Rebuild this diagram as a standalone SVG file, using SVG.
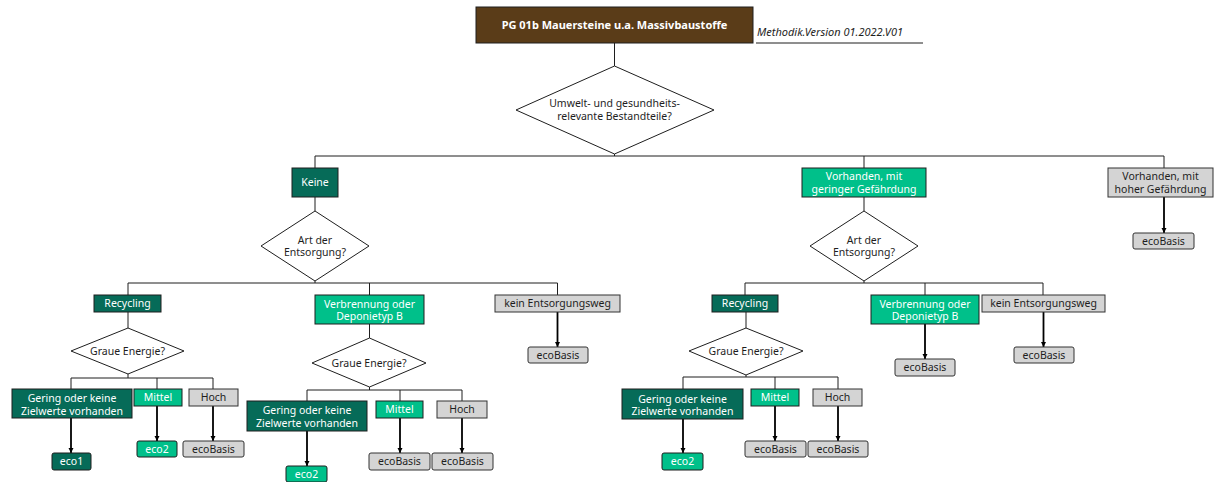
<svg xmlns="http://www.w3.org/2000/svg" width="1218" height="482" viewBox="0 0 1218 482">
<style>
text{font-family:"Noto Sans","Open Sans","DejaVu Sans",sans-serif;font-size:10.5px;text-anchor:middle}
.w{fill:#ffffff}
.k{fill:#1e1e1e}
.dk{fill:#066b58;stroke:#1e1e1e;stroke-width:1}
.br{fill:#00c08a;stroke:#1e1e1e;stroke-width:1}
.gy{fill:#d4d4d4;stroke:#333333;stroke-width:1}
.dia{fill:#ffffff;stroke:#1e1e1e;stroke-width:1}
.ln{fill:none;stroke:#1e1e1e;stroke-width:1}
.ar{fill:none;stroke:#000000;stroke-width:1.8;marker-end:url(#ah)}
</style>
<defs>
<marker id="ah" markerUnits="userSpaceOnUse" markerWidth="6" markerHeight="6" refX="5" refY="2.5" orient="auto">
<path d="M0,0 L5,2.5 L0,5 z" fill="#000000"/>
</marker>
</defs>
<rect width="1218" height="482" fill="#ffffff"/>

<g id="connectors">
<path class="ln" d="M614.5,43V66M614.5,154V156M315,156H1164M315,156V168M864,156V168M1164,156V168"/>
<path class="ln" d="M315,197V211M315,281V283M128,283H557.5M128,283V295M369.5,283V295M557.5,283V295"/>
<path class="ln" d="M864,197V211M864,281V283M745,283H1043M745,283V295M925,283V295M1043,283V295"/>
<path class="ln" d="M128,312V328M128,374V378M71,378H213M71,378V389M157,378V389M213,378V389"/>
<path class="ln" d="M369.5,324V338M369.5,387V390M307,390H462M307,390V401M400,390V401M462,390V401"/>
<path class="ln" d="M746,312V328M746,375V377M683,377H838M683,377V389M775,377V389M838,377V389"/>
<path class="ar" d="M1164,197V233"/>
<path class="ar" d="M557.5,312V347"/>
<path class="ar" d="M925,324V359"/>
<path class="ar" d="M1043.5,312V347"/>
<path class="ar" d="M71,418V453"/>
<path class="ar" d="M157,406V441"/>
<path class="ar" d="M213,406V441"/>
<path class="ar" d="M307,431V466"/>
<path class="ar" d="M400,418V453"/>
<path class="ar" d="M462,418V453"/>
<path class="ar" d="M683,419V453"/>
<path class="ar" d="M775,406V441"/>
<path class="ar" d="M838,406V441"/>
</g>

<g id="title">
<rect x="476" y="7" width="277" height="36" fill="#5a3c18" stroke="#1e1e1e"/>
<text x="614.5" y="29" class="w" style="font-weight:bold;font-size:11px">PG 01b Mauersteine u.a. Massivbaustoffe</text>
</g>
<g id="version">
<text x="757" y="36" class="k" style="font-style:italic;font-size:11px;text-anchor:start">Methodik.Version 01.2022.V01</text>
<path class="ln" d="M756,43H923"/>
</g>

<g id="q1">
<polygon class="dia" points="614.5,66 714,110 614.5,154 516,110"/>
<text x="614.5" y="106.5" class="k">Umwelt- und gesundheits-</text>
<text x="614.5" y="120" class="k">relevante Bestandteile?</text>
</g>

<g id="n_keine">
<rect class="dk" x="292" y="168" width="46" height="29"/>
<text x="315" y="186" class="w">Keine</text>
</g>
<g id="n_vorh_gering">
<rect class="br" x="802" y="168" width="124" height="29"/>
<text x="864" y="180" class="w">Vorhanden, mit</text>
<text x="864" y="193" class="w">geringer Gefährdung</text>
</g>
<g id="n_vorh_hoch">
<rect class="gy" x="1108" y="168" width="105" height="29"/>
<text x="1160.5" y="180" class="k">Vorhanden, mit</text>
<text x="1160.5" y="193" class="k">hoher Gefährdung</text>
</g>
<g id="r_vorh_hoch">
<rect class="gy" x="1133" y="233" width="61" height="16" rx="2"/>
<text x="1163.5" y="244.5" class="k">ecoBasis</text>
</g>

<g id="q2">
<polygon class="dia" points="315,211 369,246 315,281 261,246"/>
<text x="315" y="243.5" class="k">Art der</text>
<text x="315" y="256" class="k">Entsorgung?</text>
</g>
<g id="q5">
<polygon class="dia" points="864,211 918,246 864,281 810,246"/>
<text x="864" y="243.5" class="k">Art der</text>
<text x="864" y="256" class="k">Entsorgung?</text>
</g>

<g id="n_rec_l">
<rect class="dk" x="94" y="295" width="67" height="17"/>
<text x="127.5" y="307" class="w">Recycling</text>
</g>
<g id="n_ver_l">
<rect class="br" x="315" y="295" width="109" height="29"/>
<text x="369.5" y="307.5" class="w">Verbrennung oder</text>
<text x="369.5" y="320" class="w">Deponietyp B</text>
</g>
<g id="n_kein_l">
<rect class="gy" x="495" y="295" width="125" height="17"/>
<text x="557.5" y="307" class="k">kein Entsorgungsweg</text>
</g>
<g id="r_kein_l">
<rect class="gy" x="528" y="347" width="60" height="16" rx="2"/>
<text x="558" y="358.5" class="k">ecoBasis</text>
</g>

<g id="n_rec_r">
<rect class="dk" x="712" y="295" width="66" height="17"/>
<text x="745" y="307" class="w">Recycling</text>
</g>
<g id="n_ver_r">
<rect class="br" x="871" y="295" width="108" height="29"/>
<text x="925" y="307.5" class="w">Verbrennung oder</text>
<text x="925" y="320" class="w">Deponietyp B</text>
</g>
<g id="n_kein_r">
<rect class="gy" x="982" y="295" width="123" height="17"/>
<text x="1043.5" y="307" class="k">kein Entsorgungsweg</text>
</g>
<g id="r_ver_r">
<rect class="gy" x="895" y="359" width="60" height="17" rx="2"/>
<text x="925" y="371" class="k">ecoBasis</text>
</g>
<g id="r_kein_r">
<rect class="gy" x="1014" y="347" width="60" height="16" rx="2"/>
<text x="1044" y="358.5" class="k">ecoBasis</text>
</g>

<g id="q3">
<polygon class="dia" points="128,328 184,351 128,374 71,351"/>
<text x="127.5" y="354.5" class="k">Graue Energie?</text>
</g>
<g id="q4">
<polygon class="dia" points="369.5,338 426,363 369.5,387 312,363"/>
<text x="369" y="366.5" class="k">Graue Energie?</text>
</g>
<g id="q6">
<polygon class="dia" points="746,328 803,351 746,375 689,351"/>
<text x="746" y="354.5" class="k">Graue Energie?</text>
</g>

<g id="n_g1">
<rect class="dk" x="12" y="389" width="120" height="29"/>
<text x="72" y="402" class="w">Gering oder keine</text>
<text x="72" y="414.5" class="w">Zielwerte vorhanden</text>
</g>
<g id="n_m1">
<rect class="br" x="134" y="389" width="48" height="17"/>
<text x="158" y="401" class="w">Mittel</text>
</g>
<g id="n_h1">
<rect class="gy" x="189" y="389" width="49" height="17"/>
<text x="213.5" y="401" class="k">Hoch</text>
</g>
<g id="r_g1">
<rect class="dk" x="52" y="453" width="39" height="17" rx="2"/>
<text x="71.5" y="465" class="w">eco1</text>
</g>
<g id="r_m1">
<rect class="br" x="137" y="441" width="40" height="16" rx="2"/>
<text x="157" y="452.5" class="w">eco2</text>
</g>
<g id="r_h1">
<rect class="gy" x="183" y="441" width="61" height="16" rx="2"/>
<text x="213.5" y="452.5" class="k">ecoBasis</text>
</g>

<g id="n_g2">
<rect class="dk" x="247" y="401" width="120" height="30"/>
<text x="307" y="414" class="w">Gering oder keine</text>
<text x="307" y="426.5" class="w">Zielwerte vorhanden</text>
</g>
<g id="n_m2">
<rect class="br" x="376" y="401" width="47" height="17"/>
<text x="399.5" y="413" class="w">Mittel</text>
</g>
<g id="n_h2">
<rect class="gy" x="437" y="401" width="50" height="17"/>
<text x="462" y="413" class="k">Hoch</text>
</g>
<g id="r_g2">
<rect class="br" x="286" y="466" width="41" height="16" rx="2"/>
<text x="306.5" y="478" class="w">eco2</text>
</g>
<g id="r_m2">
<rect class="gy" x="369" y="453" width="61" height="17" rx="2"/>
<text x="399.5" y="465" class="k">ecoBasis</text>
</g>
<g id="r_h2">
<rect class="gy" x="432" y="453" width="61" height="17" rx="2"/>
<text x="462.5" y="465" class="k">ecoBasis</text>
</g>

<g id="n_g3">
<rect class="dk" x="622" y="389" width="121" height="30"/>
<text x="682.5" y="402.5" class="w">Gering oder keine</text>
<text x="682.5" y="415" class="w">Zielwerte vorhanden</text>
</g>
<g id="n_m3">
<rect class="br" x="751" y="389" width="48" height="17"/>
<text x="775" y="401" class="w">Mittel</text>
</g>
<g id="n_h3">
<rect class="gy" x="813" y="389" width="49" height="17"/>
<text x="837.5" y="401" class="k">Hoch</text>
</g>
<g id="r_g3">
<rect class="br" x="662" y="453" width="41" height="17" rx="2"/>
<text x="682.5" y="465" class="w">eco2</text>
</g>
<g id="r_m3">
<rect class="gy" x="745" y="441" width="61" height="16" rx="2"/>
<text x="775.5" y="452.5" class="k">ecoBasis</text>
</g>
<g id="r_h3">
<rect class="gy" x="808" y="441" width="60" height="16" rx="2"/>
<text x="838" y="452.5" class="k">ecoBasis</text>
</g>
</svg>
